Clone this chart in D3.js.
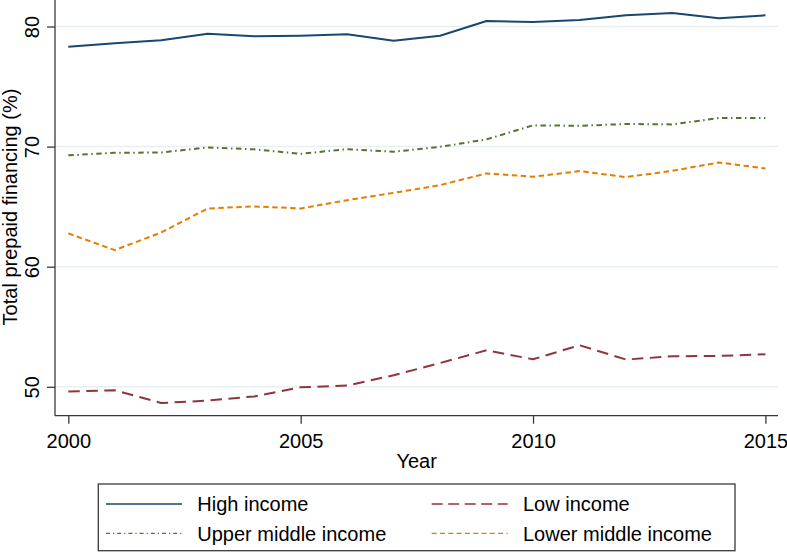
<!DOCTYPE html>
<html>
<head>
<meta charset="utf-8">
<script src="https://cdn.jsdelivr.net/npm/d3@7"></script>
<style>
  html, body { margin: 0; padding: 0; background: #fff; }
  svg { display: block; font-family: "Liberation Sans", Arial, Helvetica, sans-serif; }
</style>
</head>
<body>
<svg id="chart" width="787" height="552"></svg>
<script>
// ── Data ──
const years = [2000, 2001, 2002, 2003, 2004, 2005, 2006, 2007,
               2008, 2009, 2010, 2011, 2012, 2013, 2014, 2015];
const highIncome   = [78.32, 78.60, 78.85, 79.40, 79.18, 79.23, 79.35, 78.82,
                      79.23, 80.46, 80.38, 80.54, 80.93, 81.12, 80.68, 80.93];
const lowIncome    = [49.60, 49.71, 48.65, 48.85, 49.20, 49.96, 50.10, 50.96,
                      51.98, 53.04, 52.29, 53.46, 52.27, 52.54, 52.57, 52.71];
const upperMiddle  = [69.27, 69.48, 69.51, 69.93, 69.77, 69.40, 69.79, 69.57,
                      69.98, 70.60, 71.77, 71.73, 71.88, 71.85, 72.38, 72.38];
const lowerMiddle  = [62.77, 61.38, 62.85, 64.85, 65.02, 64.85, 65.54, 66.15,
                      66.79, 67.77, 67.49, 67.96, 67.46, 67.99, 68.68, 68.18];
const seriesNames  = ["High income", "Low income", "Upper middle income", "Lower middle income"];
const xTicks = [2000, 2005, 2010, 2015];
const yTicks = [50, 60, 70, 80];

// ── Styles (Stata s2color look) ──
const styles = [
  { color: "#1a476f", dash: null,              legendDash: null },
  { color: "#90353b", dash: "11.5,6.5",        legendDash: "11,5.5" },
  { color: "#55752f", dash: "5.5,3.5,1.5,3.5", legendDash: "4,3,1.2,3" },
  { color: "#e37e00", dash: "5.5,3.5",         legendDash: "5,3.3" },
];
const axisColor = "#3a3a3a";
const gridColor = "#e7eff1";
const fontSize = 20;

const svg = d3.select("#chart");

// plot region edges
const plot = { left: 55, right: 778, top: 0, bottom: 415.7 };

const x = d3.scaleLinear().domain([2000, 2015]).range([68.3, 765.4]);
const y = d3.scaleLinear().domain([50, 80]).range([386.8, 26.5]);

const series = [highIncome, lowIncome, upperMiddle, lowerMiddle].map((vals, i) => ({
  name: seriesNames[i],
  style: styles[i],
  points: years.map((yr, j) => ({ year: yr, value: vals[j] })),
}));

// ── Grid lines ──
svg.append("g")
  .selectAll("line")
  .data(yTicks)
  .join("line")
  .attr("x1", plot.left)
  .attr("x2", plot.right)
  .attr("y1", d => y(d))
  .attr("y2", d => y(d))
  .style("stroke", gridColor)
  .style("stroke-width", 1.5);

// ── Lines ──
const line = d3.line()
  .x(d => x(d.year))
  .y(d => y(d.value));

svg.append("g")
  .selectAll("path")
  .data(series)
  .join("path")
  .attr("d", d => line(d.points))
  .style("fill", "none")
  .style("stroke", d => d.style.color)
  .style("stroke-width", 2)
  .style("stroke-linejoin", "round")
  .style("stroke-dasharray", d => d.style.dash);

// ── Axes ──
const xAxis = svg.append("g")
  .attr("transform", `translate(0,${plot.bottom})`)
  .call(d3.axisBottom(x).tickValues(xTicks).tickSize(8).tickFormat(d3.format("d")));
xAxis.select(".domain").remove();
xAxis.selectAll(".tick line").style("stroke", axisColor).style("stroke-width", 1.3);
xAxis.selectAll(".tick text")
  .attr("y", 32)
  .attr("dy", null)
  .style("font-size", fontSize + "px")
  .style("fill", "#000");

const yAxis = svg.append("g")
  .attr("transform", `translate(${plot.left},0)`)
  .call(d3.axisLeft(y).tickValues(yTicks).tickSize(8));
yAxis.select(".domain").remove();
yAxis.selectAll(".tick line").style("stroke", axisColor).style("stroke-width", 1.3);
yAxis.selectAll(".tick text")
  .attr("x", null)
  .attr("dy", null)
  .attr("text-anchor", "middle")
  .attr("transform", "translate(-16.5,0) rotate(-90)")
  .style("font-size", fontSize + "px")
  .style("fill", "#000");
svg.selectAll(".tick text").attr("font-family", null);

// axis lines drawn separately so they span the whole plot region
svg.append("line")
  .attr("x1", plot.left).attr("x2", plot.left)
  .attr("y1", plot.top).attr("y2", plot.bottom)
  .style("stroke", axisColor).style("stroke-width", 1.3);
svg.append("line")
  .attr("x1", plot.left).attr("x2", plot.right)
  .attr("y1", plot.bottom).attr("y2", plot.bottom)
  .style("stroke", axisColor).style("stroke-width", 1.3);

// ── Axis titles ──
svg.append("text")
  .attr("x", 416.7)
  .attr("y", 468.3)
  .attr("text-anchor", "middle")
  .style("font-size", fontSize + "px")
  .text("Year");

// kept a hair off the left edge so the glyph box is not clipped
svg.append("text")
  .attr("transform", "translate(17,207) rotate(-90)")
  .attr("text-anchor", "middle")
  .style("font-size", fontSize + "px")
  .text("Total prepaid financing (%)");

// ── Legend (2 columns, Stata order) ──
const legend = svg.append("g");
legend.append("rect")
  .attr("x", 98.3)
  .attr("y", 484)
  .attr("width", 636.7)
  .attr("height", 66.7)
  .style("fill", "#fff")
  .style("stroke", axisColor)
  .style("stroke-width", 1.3);

const colX = [106, 431.7];
const rowY = [504, 533.3];
const item = legend.selectAll("g.item")
  .data(series)
  .join("g")
  .attr("class", "item")
  .attr("transform", (d, i) => `translate(${colX[i % 2]},${rowY[Math.floor(i / 2)]})`);

item.append("line")
  .attr("x1", 0)
  .attr("x2", 76)
  .style("stroke", d => d.style.color)
  .style("stroke-width", 1.3)
  .style("stroke-dasharray", d => d.style.legendDash);

item.append("text")
  .attr("x", 91.3)
  .attr("y", 7.3)
  .style("font-size", fontSize + "px")
  .text(d => d.name);
</script>
</body>
</html>
